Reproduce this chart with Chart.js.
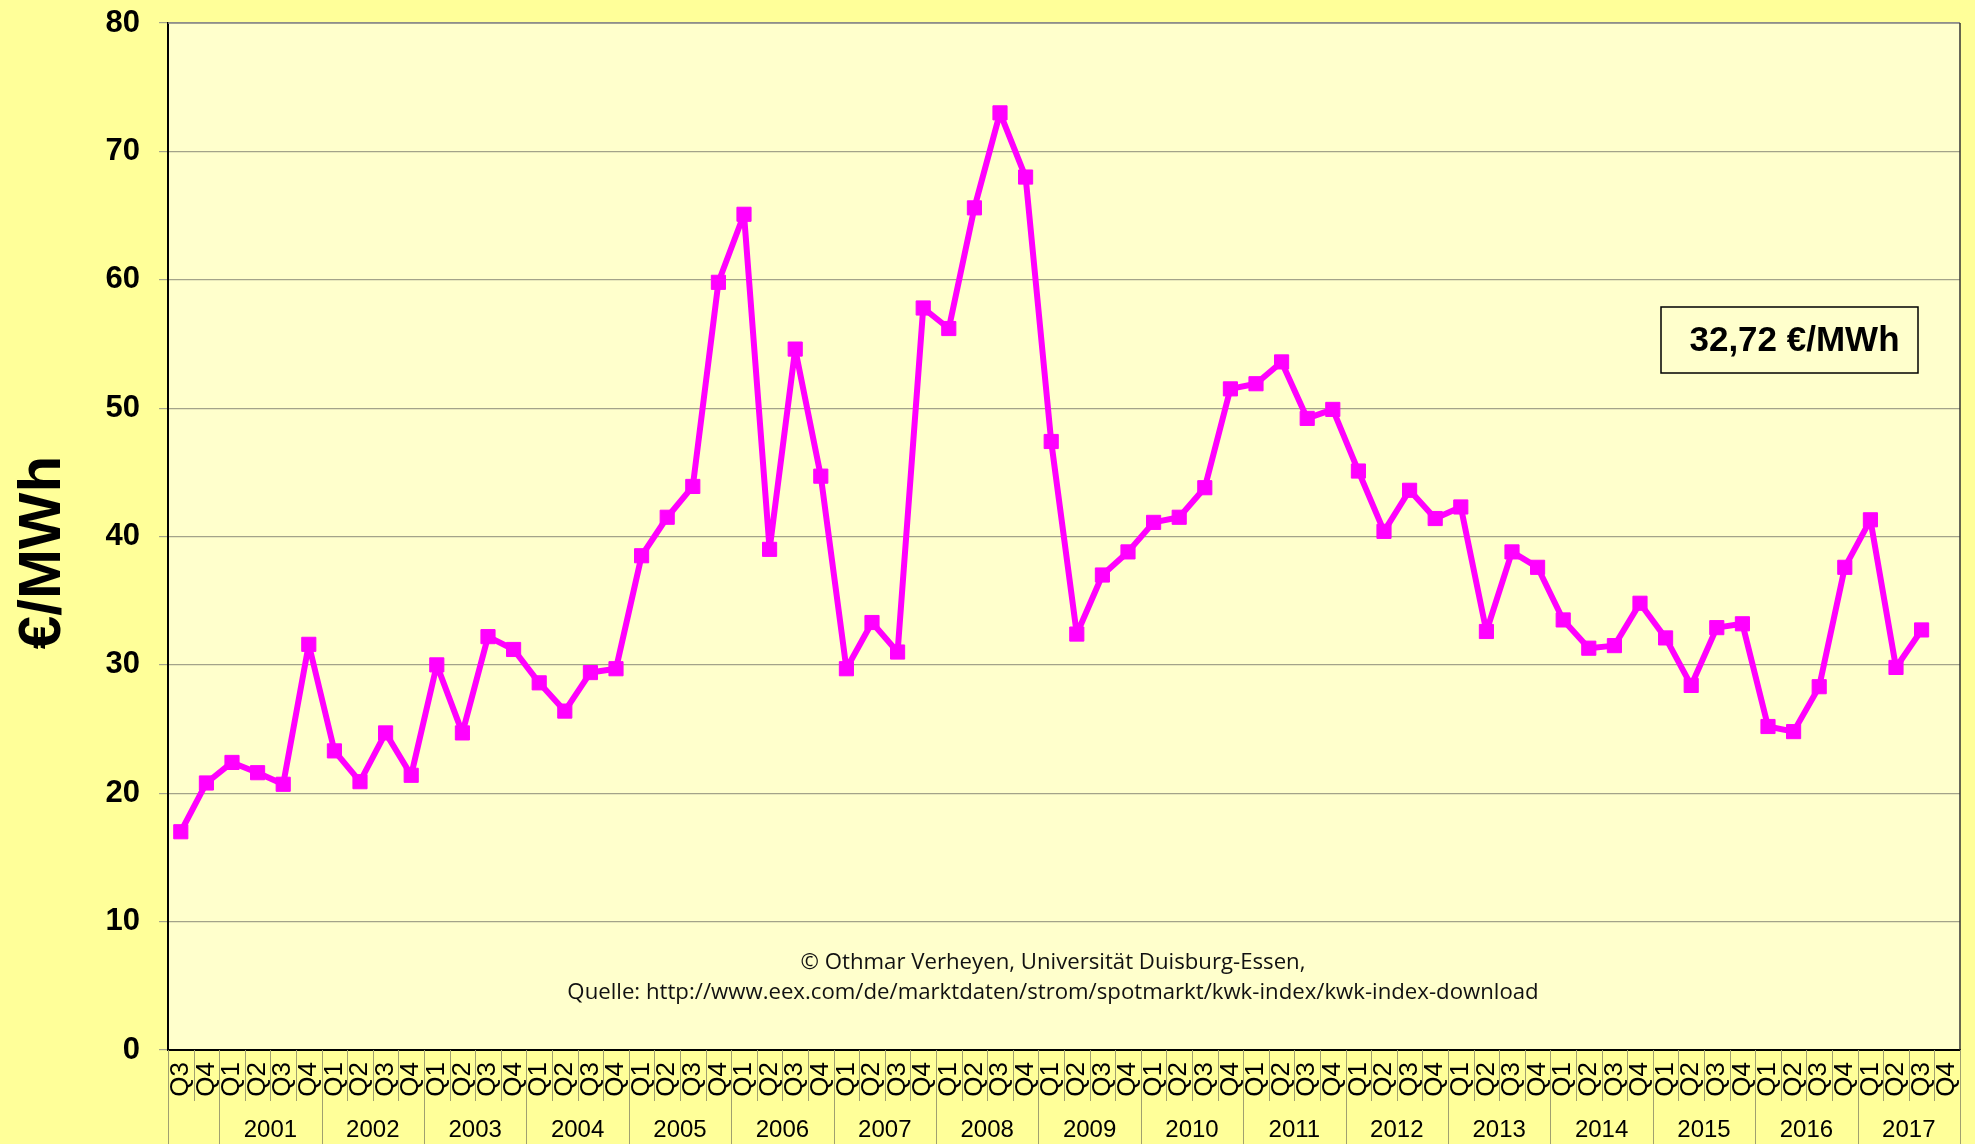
<!DOCTYPE html>
<html>
<head>
<meta charset="utf-8">
<script src="https://cdn.jsdelivr.net/npm/chart.js@4.4.0/dist/chart.umd.min.js"></script>
<style>
  html, body { margin: 0; padding: 0; background: #ffff99; }
  #wrap { width: 1975px; height: 1144px; }
</style>
</head>
<body>
<div id="wrap"><canvas id="kwkChart" width="1975" height="1144"></canvas></div>
<script>
// KWK-Index, Quartalswerte in €/MWh (Q3 2000 bis Q3 2017)
const years = [2001, 2002, 2003, 2004, 2005, 2006, 2007, 2008, 2009,
               2010, 2011, 2012, 2013, 2014, 2015, 2016, 2017];
const startQuarters = ['Q3', 'Q4'];   // 2000
const quarterNames = ['Q1', 'Q2', 'Q3', 'Q4'];

const kwkValues = [
  17.0, 20.8,                 // 2000
  22.4, 21.6, 20.7, 31.6,     // 2001
  23.3, 20.9, 24.7, 21.4,     // 2002
  30.0, 24.7, 32.2, 31.2,     // 2003
  28.6, 26.4, 29.4, 29.7,     // 2004
  38.5, 41.5, 43.9, 59.8,     // 2005
  65.1, 39.0, 54.6, 44.7,     // 2006
  29.7, 33.3, 31.0, 57.8,     // 2007
  56.2, 65.6, 73.0, 68.0,     // 2008
  47.4, 32.4, 37.0, 38.8,     // 2009
  41.1, 41.5, 43.8, 51.5,     // 2010
  51.9, 53.6, 49.2, 49.9,     // 2011
  45.1, 40.4, 43.6, 41.4,     // 2012
  42.3, 32.6, 38.8, 37.6,     // 2013
  33.5, 31.3, 31.5, 34.8,     // 2014
  32.1, 28.4, 32.9, 33.2,     // 2015
  25.2, 24.8, 28.3, 37.6,     // 2016
  41.3, 29.8, 32.72, null     // 2017
];

const yTicks = [0, 10, 20, 30, 40, 50, 60, 70, 80];
const yTitle = '€/MWh';
const lastValueText = '32,72 €/MWh';
const creditLines = [
  '© Othmar Verheyen, Universität Duisburg-Essen,',
  'Quelle: http://www.eex.com/de/marktdaten/strom/spotmarkt/kwk-index/kwk-index-download'
];

// quarter labels for the x axis
const labels = startQuarters.slice();
years.forEach(function () {
  quarterNames.forEach(function (q) { labels.push(q); });
});

const plotBg = '#ffffcc';
const gridColor = '#a3a38a';
const sepColor = '#a0a070';

// plot background, borders, year row, separators, box and credits
const decorations = {
  id: 'decorations',
  beforeDraw: function (chart) {
    const a = chart.chartArea;
    const c = chart.ctx;
    c.save();
    c.fillStyle = plotBg;
    c.fillRect(a.left, a.top, a.right - a.left, a.bottom - a.top);
    c.restore();
  },
  afterDraw: function (chart) {
    const a = chart.chartArea;
    const c = chart.ctx;
    const x = chart.scales.x;
    const h = chart.height;
    const half = (x.getPixelForValue(1) - x.getPixelForValue(0)) / 2;

    c.save();
    // top and right border of the plot
    c.strokeStyle = '#888888';
    c.lineWidth = 1.5;
    c.beginPath();
    c.moveTo(a.left, a.top);
    c.lineTo(a.right, a.top);
    c.stroke();
    c.strokeStyle = '#333333';
    c.beginPath();
    c.moveTo(a.right, a.top);
    c.lineTo(a.right, a.bottom);
    c.stroke();

    // separators between quarters and between years
    c.strokeStyle = sepColor;
    c.lineWidth = 1;
    for (let i = 0; i <= labels.length; i++) {
      const px = Math.round(x.getPixelForValue(i) - half) + 0.5;
      const isYear = (i === 0 || i === labels.length || (i - startQuarters.length) % 4 === 0);
      c.beginPath();
      c.moveTo(px, a.bottom);
      c.lineTo(px, isYear ? h : a.bottom + 51);
      c.stroke();
    }

    // year labels
    c.fillStyle = '#000';
    c.font = '24px "Liberation Sans", Arial, sans-serif';
    c.textAlign = 'center';
    c.textBaseline = 'middle';
    years.forEach(function (yr, k) {
      const first = startQuarters.length + k * 4;
      const cx = (x.getPixelForValue(first) + x.getPixelForValue(first + 3)) / 2;
      c.fillText(String(yr), cx, a.bottom + 80);
    });

    // y axis title
    c.save();
    c.translate(43, (a.top + a.bottom) / 2 + 16);
    c.rotate(-Math.PI / 2);
    c.font = 'bold 60px "Liberation Sans", Arial, sans-serif';
    c.fillText(yTitle, 0, 0);
    c.restore();

    // box with the latest value
    const bx = a.right - 299, by = a.top + 284, bw = 257, bh = 66;
    c.fillStyle = plotBg;
    c.fillRect(bx, by, bw, bh);
    c.strokeStyle = '#000';
    c.lineWidth = 1.5;
    c.strokeRect(bx, by, bw, bh);
    c.fillStyle = '#000';
    c.font = 'bold 35px "Liberation Sans", Arial, sans-serif';
    c.fillText(lastValueText, bx + bw / 2 + 5, by + bh / 2 + 1);

    // credits
    c.font = '22.2px "Open Sans", "Liberation Sans", sans-serif';
    c.fillStyle = '#111';
    const mid = (a.left + a.right) / 2;
    c.fillText(creditLines[0], mid - 11, a.top + 940);
    c.fillText(creditLines[1], mid - 11, a.top + 970);
    c.restore();
  }
};

const ctx = document.getElementById('kwkChart').getContext('2d');
new Chart(ctx, {
  type: 'line',
  data: {
    labels: labels,
    datasets: [{
      label: 'KWK-Index',
      data: kwkValues,
      borderColor: '#ff00ff',
      backgroundColor: '#ff00ff',
      borderWidth: 6,
      borderJoinStyle: 'round',
      tension: 0,
      pointStyle: 'rect',
      pointRadius: 10,
      pointBorderWidth: 1,
      pointBorderColor: '#ff00ff',
      pointBackgroundColor: '#ff00ff',
      spanGaps: false
    }]
  },
  options: {
    responsive: false,
    animation: false,
    layout: { padding: { top: 23, right: 15, left: 0, bottom: 0 } },
    scales: {
      x: {
        type: 'category',
        offset: true,
        afterFit: function (scale) {
          scale.height = 94;
          scale.paddingLeft = 0;
          scale.paddingRight = 0;
        },
        grid: { display: false, drawTicks: false },
        border: { display: true, color: '#000', width: 2 },
        ticks: {
          autoSkip: false,
          minRotation: 90,
          maxRotation: 90,
          padding: 12,
          color: '#000',
          font: { family: '"Liberation Sans", Arial, sans-serif', size: 26 }
        }
      },
      y: {
        min: 0,
        max: 80,
        afterFit: function (scale) {
          scale.width = 168;
          scale.paddingTop = 0;
          scale.paddingBottom = 0;
        },
        afterBuildTicks: function (scale) {
          scale.ticks = yTicks.map(function (v) { return { value: v }; });
        },
        grid: { color: gridColor, lineWidth: 1.2, tickLength: 9, tickColor: gridColor },
        border: { display: true, color: '#000', width: 2 },
        ticks: {
          padding: 19,
          color: '#000',
          font: { family: '"Liberation Sans", Arial, sans-serif', size: 31, weight: 'bold' }
        }
      }
    },
    plugins: {
      legend: { display: false },
      tooltip: { enabled: false }
    }
  },
  plugins: [decorations]
});
</script>
</body>
</html>
